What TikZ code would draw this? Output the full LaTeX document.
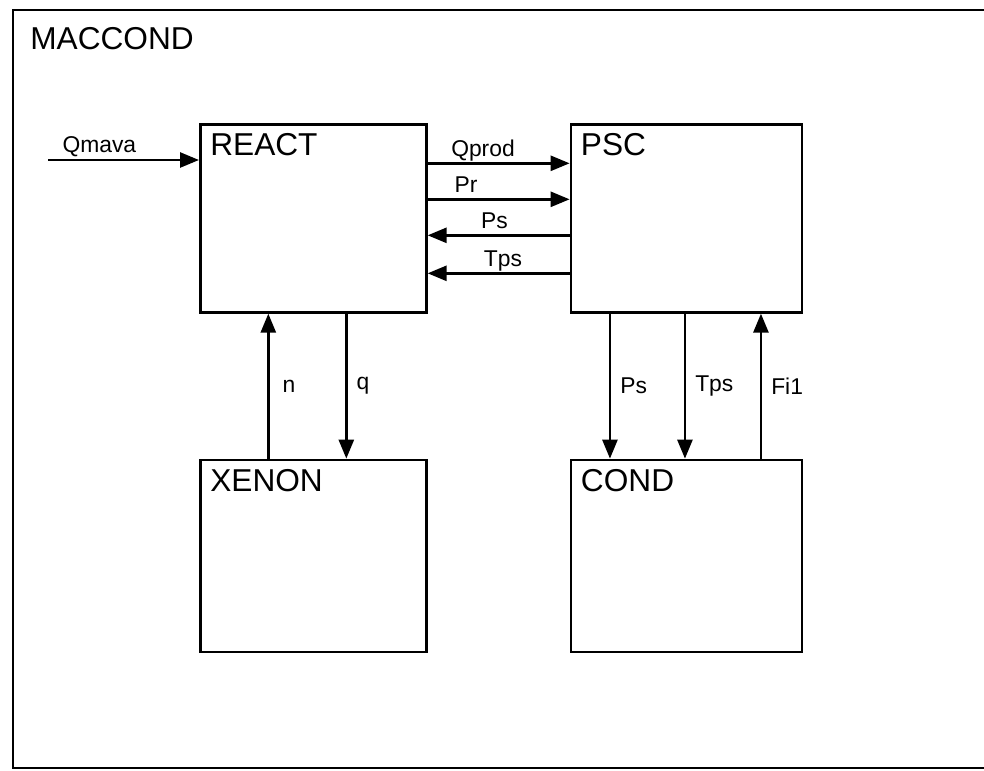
\documentclass[tikz,border=0pt]{standalone}
\usepackage{fontspec}
\setmainfont{Liberation Sans}
\usepackage{tikz}
\usetikzlibrary{positioning,arrows.meta}
\newcommand{\boxfont}{\fontsize{18}{20}\selectfont}
\newcommand{\sigfont}{\fontsize{13}{15}\selectfont}
\tikzset{
  block/.style={draw,line width=1.5pt,minimum width=4.52cm,minimum height=3.76cm,
    inner sep=0pt,
    label={[anchor=north west,inner sep=0pt,font=\boxfont,xshift=2.2mm,
      yshift=-2mm]north west:#1}},
  block-wide/.style={minimum width=4.62cm},
  block-tall/.style={minimum height=3.84cm},
  sig/.style={-{Triangle[length=3.8mm,width=3mm]},line width=1.5pt},
  sig-label/.style={font=\sigfont,anchor=base,yshift=1.4mm,inner sep=0pt},
  sig-label-v/.style={font=\sigfont,anchor=west,xshift=1.8mm,inner sep=0pt},
}

\begin{document}
\begin{tikzpicture}[node distance=2.9cm and 2.84cm]
  \useasboundingbox (0,0) rectangle (19.68,-15.42);
  % outer frame, right side runs off the sheet
  \draw[line width=1.5pt] (20,-0.2) -- (0.26,-0.2) -- (0.26,-15.36) -- (20,-15.36);
  \node[font=\boxfont,anchor=base west,inner sep=0pt] (title) at (0.6,-1.0) {MACCOND};

  \node[block=REACT,anchor=north west] (react) at (3.98,-2.46) {};
  \node[block=PSC,block-wide,right=of react] (psc) {};
  \node[block=XENON,block-tall,below=of react] (xenon) {};
  \node[block=COND,block-wide,block-tall,below=of psc] (cond) {};

  \coordinate (qin) at (0.96,-3.2);
  \draw[sig] (qin) -- (qin -| react.west) node[sig-label,pos=0.34] {Qmava};

  \draw[sig] ([yshift=11mm]react.east) -- ([yshift=11mm]psc.west) node[sig-label,pos=0.39] {Qprod};
  \draw[sig] ([yshift=3.8mm]react.east) -- ([yshift=3.8mm]psc.west) node[sig-label,pos=0.27] {Pr};
  \draw[sig] ([yshift=-3.4mm]psc.west) -- ([yshift=-3.4mm]react.east) node[sig-label,pos=0.53] {Ps};
  \draw[sig] ([yshift=-11mm]psc.west) -- ([yshift=-11mm]react.east) node[sig-label,pos=0.47] {Tps};

  \draw[sig] ([xshift=-9mm]xenon.north) -- ([xshift=-9mm]react.south) node[sig-label-v,midway,xshift=0.8mm] {n};
  \draw[sig] ([xshift=6.6mm]react.south) -- ([xshift=6.6mm]xenon.north) node[sig-label-v,midway] {q};
  \draw[sig] ([xshift=-15.3mm]psc.south) -- ([xshift=-15.3mm]cond.north) node[sig-label-v,midway] {Ps};
  \draw[sig] ([xshift=-0.3mm]psc.south) -- ([xshift=-0.3mm]cond.north) node[sig-label-v,midway] {Tps};
  \draw[sig] ([xshift=14.9mm]cond.north) -- ([xshift=14.9mm]psc.south) node[sig-label-v,midway] {Fi1};
\end{tikzpicture}
\end{document}
